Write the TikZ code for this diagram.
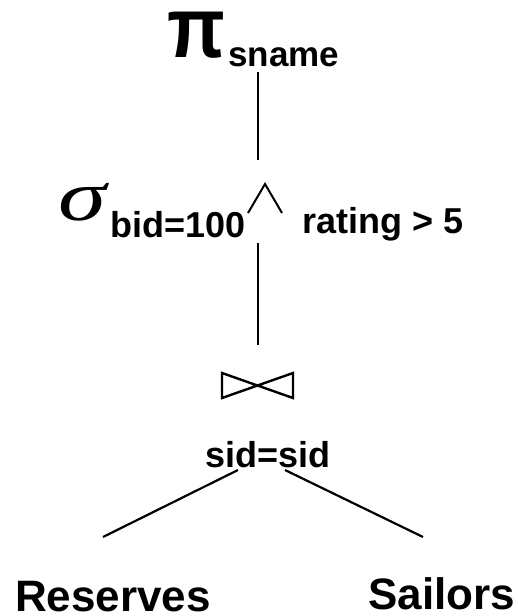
\documentclass[tikz,border=0pt]{standalone}
\usepackage{fontspec}
\setmainfont{Liberation Sans}
\newfontfamily\greekfont{Liberation Serif}
\begin{document}
\begin{tikzpicture}[x=1pt,y=-1pt,
  lbl/.style={inner sep=0pt,anchor=base west,font=\bfseries\fontsize{36}{40}\selectfont},
  big/.style={inner sep=0pt,anchor=base west,font=\bfseries\fontsize{44}{48}\selectfont},
  edge/.style={line width=2.2pt}]
\useasboundingbox (0,0) rectangle (518,616);
\node[inner sep=0pt,anchor=base west,font=\bfseries\fontsize{86}{86}\selectfont] (pi) at (167,57) {\scalebox{0.88}[1]{π}};
\node[lbl,font=\bfseries\fontsize{35}{40}\selectfont] (sname) at (228,66) {sname};
\coordinate (t1) at (258,72);
\coordinate (b1) at (258,160);
\draw[edge] (t1) -- (b1);
\node[inner sep=0pt,anchor=base west,font=\greekfont\itshape\fontsize{72}{74}\selectfont] (sigma) at (58,220) {\scalebox{1.35}[1]{σ}};
\node[lbl] (bid) at (110,237) {bid=100};
\coordinate (a1) at (248,213);
\coordinate (a2) at (265,184);
\coordinate (a3) at (282,213);
\draw[line width=2pt] (a1) -- (a2) -- (a3);
\node[lbl] (rating) at (302,233) {rating > 5};
\coordinate (t2) at (258,243);
\coordinate (b2) at (258,345);
\draw[edge] (t2) -- (b2);
\coordinate (j1) at (222,373);
\coordinate (j2) at (222,398);
\coordinate (j3) at (293,373);
\coordinate (j4) at (293,398);
\draw[line width=2.4pt,line join=miter] (j1) -- (j2) -- (j3) -- (j4) -- cycle;
\node[lbl] (sid) at (205,467) {sid=sid};
\node[big] (res) at (15,611) {Reserves};
\node[big] (sai) at (368,609) {Sailors};
\coordinate (l1) at (238,470);
\coordinate (l2) at (103,537);
\coordinate (r1) at (285,470);
\coordinate (r2) at (423,537);
\draw[edge] (l1) -- (l2);
\draw[edge] (r1) -- (r2);
\end{tikzpicture}
\end{document}
